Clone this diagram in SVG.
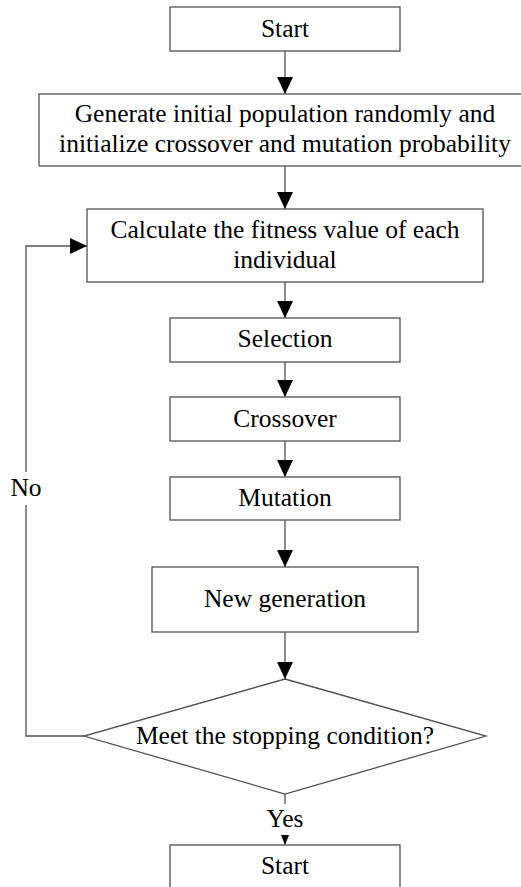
<svg xmlns="http://www.w3.org/2000/svg" width="521" height="887" viewBox="0 0 521 887">
<style>
.box{fill:#fff;stroke:#505050;stroke-width:1.3}
.ln{fill:none;stroke:#505050;stroke-width:1.3}
text{font-family:"Liberation Serif","Times New Roman",serif;font-size:25.5px;fill:#000;text-anchor:middle}
</style>
<defs>
<marker id="ah" markerUnits="userSpaceOnUse" markerWidth="17" markerHeight="16" refX="17" refY="8" orient="auto" viewBox="0 0 17 16">
<path d="M0,0 L17,8 L0,16 z" fill="#000"/>
</marker>
<marker id="ahs" markerUnits="userSpaceOnUse" markerWidth="10" markerHeight="8" refX="10" refY="4" orient="auto" viewBox="0 0 10 8">
<path d="M0,0 L10,4 L0,8 z" fill="#000"/>
</marker>
</defs>
<rect width="521" height="887" fill="#fff"/>
<g id="connectors">
<line class="ln" x1="285" y1="51" x2="285" y2="94" marker-end="url(#ah)"/>
<line class="ln" x1="285" y1="166" x2="285" y2="209" marker-end="url(#ah)"/>
<line class="ln" x1="285" y1="282" x2="285" y2="318" marker-end="url(#ah)"/>
<line class="ln" x1="285" y1="362" x2="285" y2="397" marker-end="url(#ah)"/>
<line class="ln" x1="285" y1="441" x2="285" y2="477" marker-end="url(#ah)"/>
<line class="ln" x1="285" y1="520" x2="285" y2="567" marker-end="url(#ah)"/>
<line class="ln" x1="285" y1="632" x2="285" y2="679" marker-end="url(#ah)"/>
<polyline class="ln" points="84,736 26,736 26,505"/>
<polyline class="ln" points="26,472 26,246 87,246" marker-end="url(#ah)"/>
<line class="ln" x1="285" y1="794" x2="285" y2="804"/>
<line class="ln" x1="285" y1="835" x2="285" y2="845" marker-end="url(#ahs)"/>
<text x="26" y="496">No</text>
<text x="285" y="827">Yes</text>
</g>
<g id="start">
<rect class="box" x="170" y="7" width="230" height="44"/>
<text x="285" y="37">Start</text>
</g>
<g id="init">
<rect class="box" x="39" y="94" width="490" height="72"/>
<text x="285" y="122">Generate initial population randomly and</text>
<text x="285" y="152">initialize crossover and mutation probability</text>
</g>
<g id="fitness">
<rect class="box" x="87" y="209" width="396" height="73"/>
<text x="285" y="238">Calculate the fitness value of each</text>
<text x="285" y="268">individual</text>
</g>
<g id="selection">
<rect class="box" x="170" y="318" width="230" height="44"/>
<text x="285" y="347">Selection</text>
</g>
<g id="crossover">
<rect class="box" x="170" y="397" width="230" height="44"/>
<text x="285" y="427">Crossover</text>
</g>
<g id="mutation">
<rect class="box" x="170" y="477" width="230" height="43"/>
<text x="285" y="506">Mutation</text>
</g>
<g id="newgen">
<rect class="box" x="152" y="567" width="266" height="65"/>
<text x="285" y="607">New generation</text>
</g>
<g id="decision">
<polygon class="box" points="285,679 486,736 285,794 84,736"/>
<text x="285" y="744">Meet the stopping condition?</text>
</g>
<g id="end">
<rect class="box" x="170" y="845" width="230" height="50"/>
<text x="285" y="874">Start</text>
</g>
</svg>
